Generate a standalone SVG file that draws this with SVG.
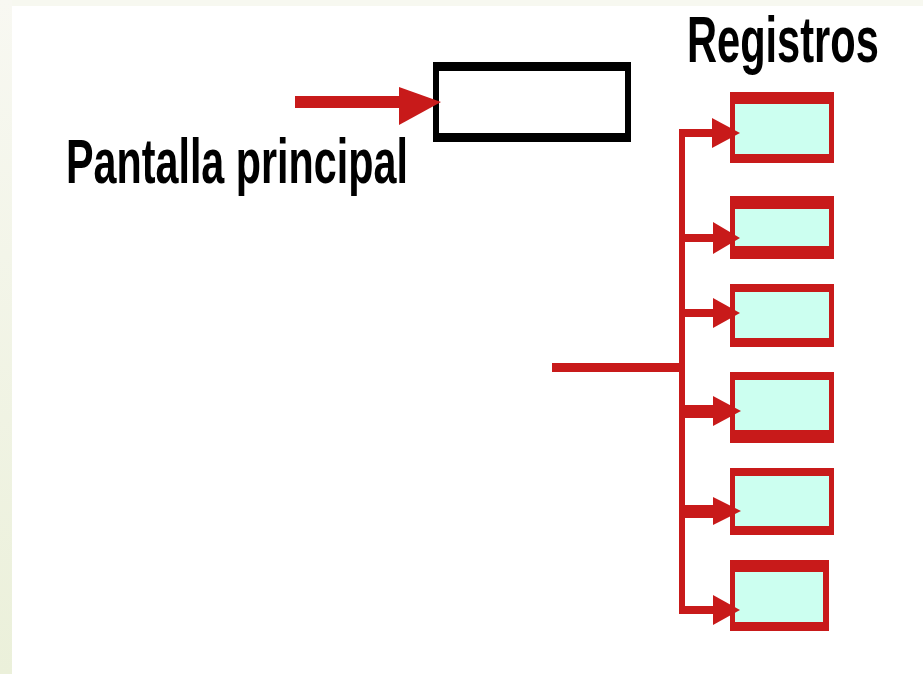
<svg xmlns="http://www.w3.org/2000/svg" width="923" height="674" viewBox="0 0 923 674">
<defs>
<linearGradient id="bgl" x1="0" y1="0" x2="0" y2="1">
<stop offset="0" stop-color="#f8f8f2"/>
<stop offset="1" stop-color="#ebf0da"/>
</linearGradient>
<style>
.red{fill:#c81a1a}
.reg{fill:#c81a1a}
.inner{fill:#ccfff0}
.lbl{font-family:"Liberation Sans",Arial,sans-serif;font-weight:bold;fill:#000}
</style>
</defs>
<rect x="0" y="0" width="923" height="674" fill="#ffffff"/>
<rect x="0" y="0" width="923" height="6" fill="#f7f8f0"/>
<rect x="0" y="0" width="12" height="674" fill="url(#bgl)"/>

<g id="pantalla">
<rect x="433" y="62" width="198" height="80" fill="#000"/>
<rect x="439" y="71" width="186" height="62" fill="#fff"/>
</g>
<g id="label-pantalla" transform="translate(66,183) scale(0.66,1)">
<text class="lbl" x="0" y="0" font-size="63" textLength="518" lengthAdjust="spacingAndGlyphs">Pantalla principal</text>
</g>
<g id="label-registros" transform="translate(687,62) scale(0.65,1)">
<text class="lbl" x="0" y="0" font-size="64" textLength="295" lengthAdjust="spacingAndGlyphs">Registros</text>
</g>

<g id="reg1"><rect class="reg" x="730" y="92" width="104" height="71"/><rect class="inner" x="735" y="104" width="94" height="50"/></g>
<g id="reg2"><rect class="reg" x="730" y="196" width="104" height="63"/><rect class="inner" x="735" y="209" width="94" height="37"/></g>
<g id="reg3"><rect class="reg" x="730" y="284" width="104" height="63"/><rect class="inner" x="735" y="292" width="94" height="46"/></g>
<g id="reg4"><rect class="reg" x="730" y="372" width="104" height="71"/><rect class="inner" x="735" y="380" width="94" height="50"/></g>
<g id="reg5"><rect class="reg" x="730" y="468" width="104" height="67"/><rect class="inner" x="735" y="476" width="94" height="50"/></g>
<g id="reg6"><rect class="reg" x="730" y="560" width="99" height="71"/><rect class="inner" x="735" y="572" width="88" height="50"/></g>

<g id="connectors">
<rect class="red" x="295" y="96" width="106" height="12"/>
<polygon class="red" points="399,87 441,102 399,125"/>
<rect class="red" x="552" y="363" width="130" height="9"/>
<rect class="red" x="679" y="129" width="6" height="485"/>
<rect class="red" x="679" y="129" width="45" height="8"/>
<polygon class="red" points="712,118 740,133 712,148"/>
<rect class="red" x="679" y="234" width="45" height="8"/>
<polygon class="red" points="713,222 740,238 713,254"/>
<rect class="red" x="679" y="309" width="45" height="8"/>
<polygon class="red" points="713,298 740,313 713,328"/>
<rect class="red" x="679" y="405" width="45" height="13"/>
<polygon class="red" points="713,396 741,411 713,426"/>
<rect class="red" x="679" y="505" width="45" height="13"/>
<polygon class="red" points="713,497 741,511 713,525"/>
<rect class="red" x="679" y="606" width="45" height="8"/>
<polygon class="red" points="713,595 740,610 713,625"/>
</g>
</svg>
